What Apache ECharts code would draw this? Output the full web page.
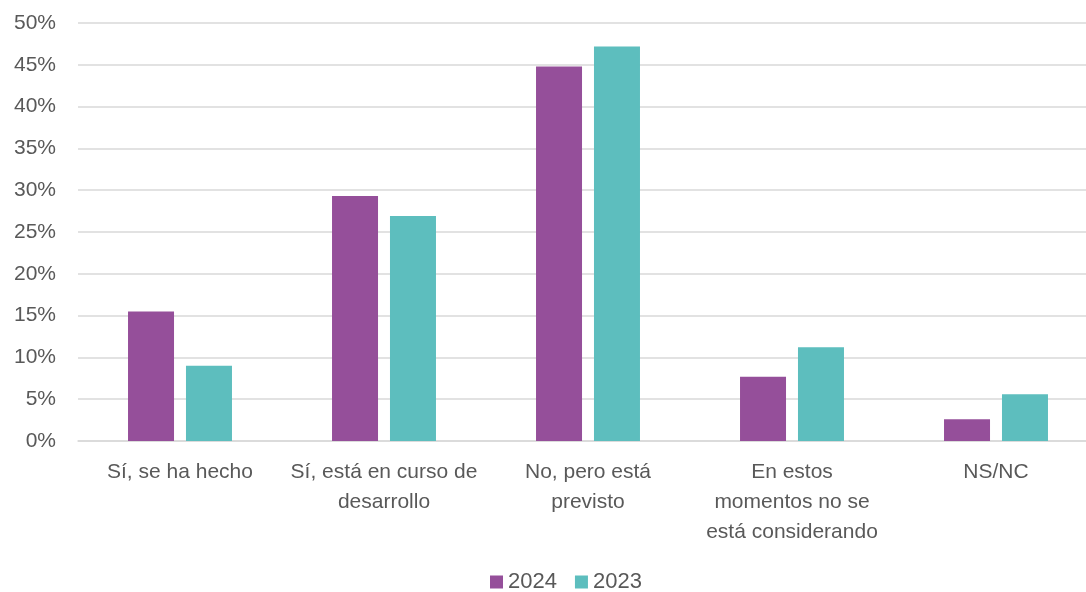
<!DOCTYPE html>
<html>
	<head>
		<meta charset="utf-8" />
		<title></title>
		<script src="https://cdn.jsdelivr.net/npm/echarts@6/dist/echarts.min.js"></script>
		<style>
			html, body { margin: 0; padding: 0; background: #fff; }
			#main { width: 1086px; height: 592px; }
		</style>
	</head>
	<body>
		<div id="main"></div>
		<script>
			// categorías y valores (%)
			var categorias = ['Sí, se ha hecho', 'Sí, está en curso de\ndesarrollo', 'No, pero está\nprevisto', 'En estos\nmomentos no se\nestá considerando', 'NS/NC'];
			var serie2024 = [15.5, 29.3, 44.8, 7.7, 2.6];
			var serie2023 = [9.0, 26.9, 47.2, 11.2, 5.6];
			var anios = ['2024', '2023'];

			var textoColor = '#595959';
			var fuente = 'Liberation Sans';

			var mycharts = echarts.init(document.getElementById('main'));
			mycharts.setOption({
				animation: false,
				color: ['#954F9A', '#5DBEBE'],
				grid: { left: 78, width: 1020, top: 23, bottom: 151, containLabel: false, outerBoundsMode: 'none' },
				legend: {
					data: anios,
					top: 566,
					left: 485,
					itemWidth: 13,
					itemHeight: 13,
					itemGap: 18,
					icon: 'rect',
					textStyle: { color: textoColor, fontSize: 22, fontFamily: fuente }
				},
				xAxis: {
					type: 'category',
					data: categorias,
					axisTick: { show: false },
					axisLine: { lineStyle: { color: '#d9d9d9', width: 1.5 } },
					axisLabel: { color: textoColor, fontSize: 21, fontFamily: fuente, lineHeight: 30, margin: 16, interval: 0 }
				},
				yAxis: {
					type: 'value',
					min: 0,
					max: 50,
					interval: 5,
					axisLabel: { formatter: '{value}%', color: textoColor, fontSize: 21, fontFamily: fuente, margin: 22 },
					splitLine: { lineStyle: { color: '#d9d9d9', width: 1.5 } },
					axisLine: { show: false },
					axisTick: { show: false }
				},
				series: [
					{ name: anios[0], type: 'bar', data: serie2024, barWidth: 46, barGap: '26%' },
					{ name: anios[1], type: 'bar', data: serie2023, barWidth: 46, barGap: '26%' }
				]
			});
		</script>
	</body>
</html>
